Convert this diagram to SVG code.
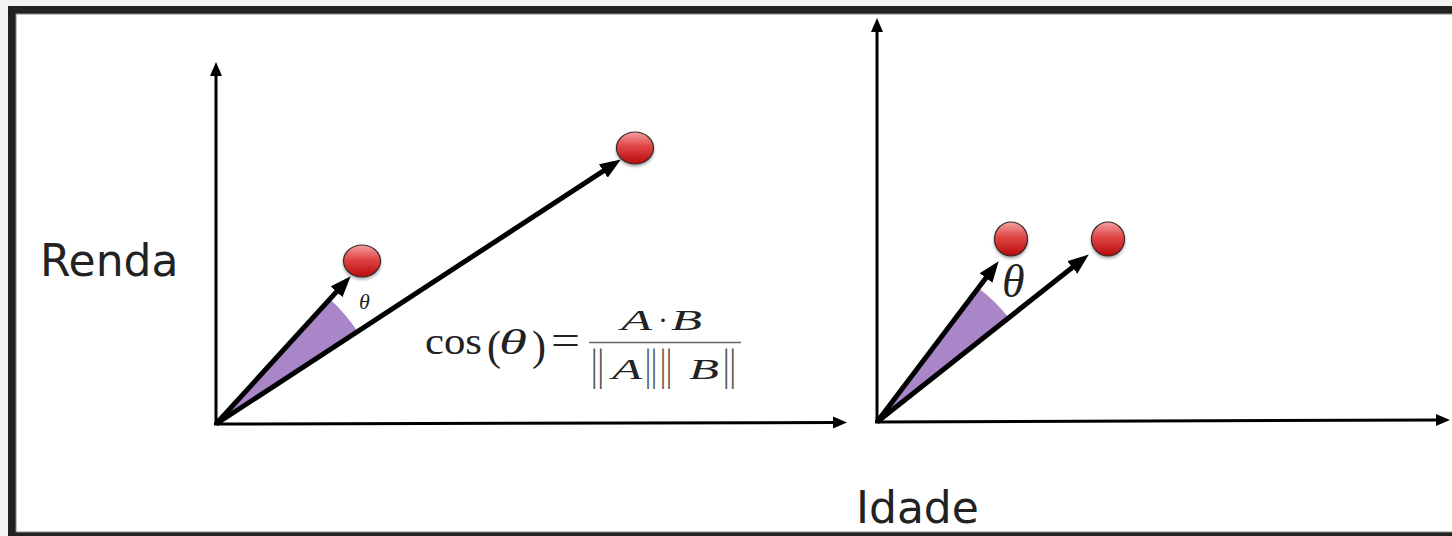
<svg xmlns="http://www.w3.org/2000/svg" width="1452" height="536" viewBox="0 0 1452 536">
<style>
.axis{stroke:#000;stroke-width:3;fill:none}
.vec{stroke:#000;stroke-width:5;fill:none}
.wedge{fill:#a886c8;stroke:none}
.ball{fill:url(#red);stroke:#3a2a2a;stroke-width:1.2}
.lbl{font-family:"DejaVu Sans",sans-serif;font-size:44px;fill:#222}
.math{font-family:"Liberation Serif","DejaVu Serif",serif;fill:#222}
.it{font-style:italic}
.bar{font-family:"Liberation Serif","DejaVu Serif",serif;font-size:44px;fill:#555}
</style>
<defs>
<marker id="ah" markerUnits="userSpaceOnUse" markerWidth="22" markerHeight="18" refX="8" refY="8" orient="auto"><path d="M0,0 L21,8 L0,16 z" fill="#000"/></marker>
<marker id="ax" markerUnits="userSpaceOnUse" markerWidth="16" markerHeight="14" refX="4" refY="6" orient="auto"><path d="M0,0 L14,6 L0,12 z" fill="#000"/></marker>
<linearGradient id="red" x1="0" y1="0" x2="0" y2="1">
<stop offset="0" stop-color="#f4a0a0"/>
<stop offset="0.45" stop-color="#e04545"/>
<stop offset="1" stop-color="#b80a0a"/>
</linearGradient>
<filter id="sh" x="-30%" y="-30%" width="160%" height="170%"><feGaussianBlur in="SourceAlpha" stdDeviation="1.5"/><feOffset dy="1.5"/><feComponentTransfer><feFuncA type="linear" slope="0.35"/></feComponentTransfer><feMerge><feMergeNode/><feMergeNode in="SourceGraphic"/></feMerge></filter>
</defs>
<rect x="0" y="0" width="1452" height="536" fill="#f3f3f3"/>
<rect x="8" y="6" width="1452" height="540" fill="#222"/>
<rect x="16" y="14" width="1452" height="518" fill="#fff" stroke="#888" stroke-width="1"/>

<g id="wedges">
<path class="wedge" d="M216,424 L357.5,331.6 A169,169 0 0 0 329.7,299.1 Z"/>
<path class="wedge" d="M877,422 L1008.7,317.7 A168,168 0 0 0 978.3,287.9 Z"/>
</g>

<g id="connectors">
<line class="axis" x1="216" y1="425" x2="216" y2="72" marker-end="url(#ax)"/>
<line class="axis" x1="214" y1="424" x2="837" y2="422.5" marker-end="url(#ax)"/>
<line class="axis" x1="877" y1="423" x2="877" y2="28" marker-end="url(#ax)"/>
<line class="axis" x1="875" y1="422" x2="1440" y2="420" marker-end="url(#ax)"/>
<line class="vec" x1="216" y1="424" x2="341.9" y2="285.9" marker-end="url(#ah)"/>
<line class="vec" x1="216" y1="424" x2="610" y2="166.6" marker-end="url(#ah)"/>
<line class="vec" x1="877" y1="422" x2="990.8" y2="271.6" marker-end="url(#ah)"/>
<line class="vec" x1="877" y1="422" x2="1078.6" y2="262.5" marker-end="url(#ah)"/>
</g>

<g id="ball-left-a"><ellipse class="ball" filter="url(#sh)" cx="362" cy="261" rx="18.5" ry="16"/></g>
<g id="ball-left-b"><ellipse class="ball" filter="url(#sh)" cx="635" cy="148" rx="18.5" ry="16"/></g>
<g id="ball-right-a"><ellipse class="ball" filter="url(#sh)" cx="1011" cy="239" rx="16.5" ry="17"/></g>
<g id="ball-right-b"><ellipse class="ball" filter="url(#sh)" cx="1108" cy="239" rx="16.5" ry="17"/></g>

<g id="label-renda"><text class="lbl" x="40" y="276">Renda</text></g>
<g id="label-idade"><text class="lbl" x="856" y="523">Idade</text></g>

<g id="theta-left"><text class="math it" x="359" y="309" font-size="22" fill="#555">θ</text></g>
<g id="theta-right"><text class="math it" x="1002" y="297" font-size="46">θ</text></g>

<g id="formula">
<text class="math" x="425" y="354" font-size="38" textLength="57" lengthAdjust="spacingAndGlyphs">cos</text>
<text class="math" x="487" y="360" font-size="42" fill="#555">(</text>
<text class="math it" x="499" y="354" font-size="36" textLength="28" lengthAdjust="spacingAndGlyphs">θ</text>
<text class="math" x="532" y="360" font-size="42" fill="#555">)</text>
<text class="math" x="551" y="354" font-size="42" textLength="29" lengthAdjust="spacingAndGlyphs">=</text>
<text class="math it" x="621" y="330" font-size="30" textLength="31" lengthAdjust="spacingAndGlyphs">A</text>
<text class="math" x="658" y="330" font-size="30">·</text>
<text class="math it" x="671" y="330" font-size="30" textLength="31" lengthAdjust="spacingAndGlyphs">B</text>
<line x1="589" y1="342.5" x2="741" y2="342.5" stroke="#666" stroke-width="1.5"/>
<text class="bar" x="591" y="380" textLength="13" lengthAdjust="spacingAndGlyphs">||</text>
<text class="math it" x="612" y="379" font-size="30" textLength="30" lengthAdjust="spacingAndGlyphs">A</text>
<text class="bar" x="645" y="380" textLength="12" lengthAdjust="spacingAndGlyphs">||</text>
<text class="bar" x="660" y="380" textLength="12" lengthAdjust="spacingAndGlyphs">||</text>
<text class="math it" x="689" y="379" font-size="30" textLength="30" lengthAdjust="spacingAndGlyphs">B</text>
<text class="bar" x="723" y="380" textLength="13" lengthAdjust="spacingAndGlyphs">||</text>
</g>
</svg>
